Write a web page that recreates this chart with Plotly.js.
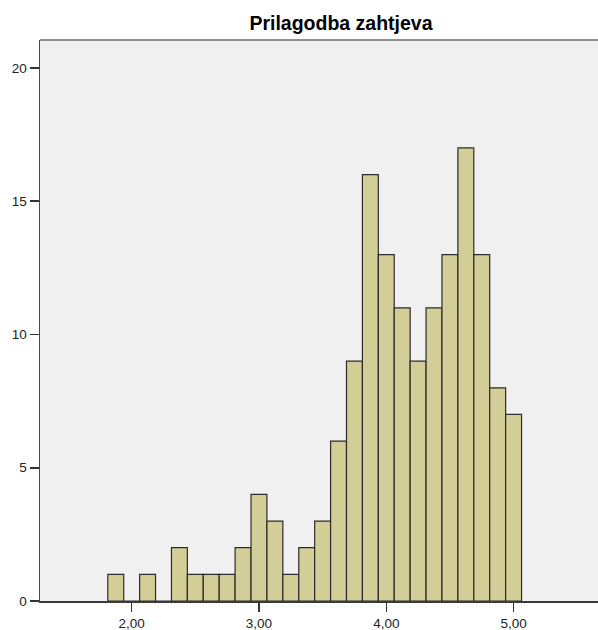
<!DOCTYPE html>
<html>
<head>
<meta charset="utf-8">
<script src="https://cdn.plot.ly/plotly-3.0.1.min.js"></script>
<style>html,body{margin:0;padding:0;background:#fff;}#chart{width:598px;height:630px;}</style>
</head>
<body>
<div id="chart"></div>
<script>
// Bin centres (width 0.125) and counts
var binCenters = [1.875, 2.000, 2.125, 2.250, 2.375, 2.500, 2.625, 2.750, 2.875, 3.000,
                  3.125, 3.250, 3.375, 3.500, 3.625, 3.750, 3.875, 4.000, 4.125, 4.250,
                  4.375, 4.500, 4.625, 4.750, 4.875, 5.000];
var counts = [1, 0, 1, 0, 2, 1, 1, 1, 2, 4,
              3, 1, 2, 3, 6, 9, 16, 13, 11, 9,
              11, 13, 17, 13, 8, 7];
var xTickVals = [2, 3, 4, 5];
var xTickText = ["2,00", "3,00", "4,00", "5,00"];
var yTickVals = [0, 5, 10, 15, 20];
var titleText = "Prilagodba zahtjeva";

var trace = {
  type: 'bar',
  x: binCenters,
  y: counts,
  width: 0.125,
  marker: {color: '#d3ce97', line: {color: '#2b2b2b', width: 1.2}},
  hoverinfo: 'x+y'
};

var layout = {
  width: 598, height: 630,
  margin: {l: 40, r: 0, t: 40, b: 29, pad: 0},
  paper_bgcolor: '#ffffff',
  plot_bgcolor: '#f0f0f0',
  font: {family: 'Liberation Sans, Arial, sans-serif', size: 13, color: '#222'},
  showlegend: false,
  bargap: 0,
  title: {
    text: '<b>' + titleText + '</b>',
    font: {family: 'Liberation Sans, Arial, sans-serif', size: 19.5, color: '#000'},
    x: 341/598, xref: 'container', xanchor: 'center',
    y: 1 - 23/630, yref: 'container', yanchor: 'middle'
  },
  xaxis: {
    range: [1.280, 5.663],
    tickvals: xTickVals, ticktext: xTickText,
    ticks: 'outside', ticklen: 9, tickwidth: 1.5, tickcolor: '#333',
    showgrid: false, zeroline: false,
    showline: true, linecolor: '#3a3a3a', linewidth: 1.5,
    tickfont: {size: 13.5, color: '#222'}
  },
  yaxis: {
    range: [0, 21.05],
    tickvals: yTickVals,
    ticks: 'outside', ticklen: 9, tickwidth: 1.5, tickcolor: '#333',
    showgrid: false, zeroline: false,
    showline: true, linecolor: '#4a4a4a', linewidth: 1.5,
    tickfont: {size: 13.5, color: '#222'}
  },
  shapes: [{
    type: 'line', xref: 'paper', yref: 'paper', x0: 0, x1: 1, y0: 1, y1: 1,
    line: {color: '#6e6e6e', width: 1.5}
  }]
};

Plotly.newPlot('chart', [trace], layout, {displayModeBar: false, staticPlot: true});
</script>
</body>
</html>
